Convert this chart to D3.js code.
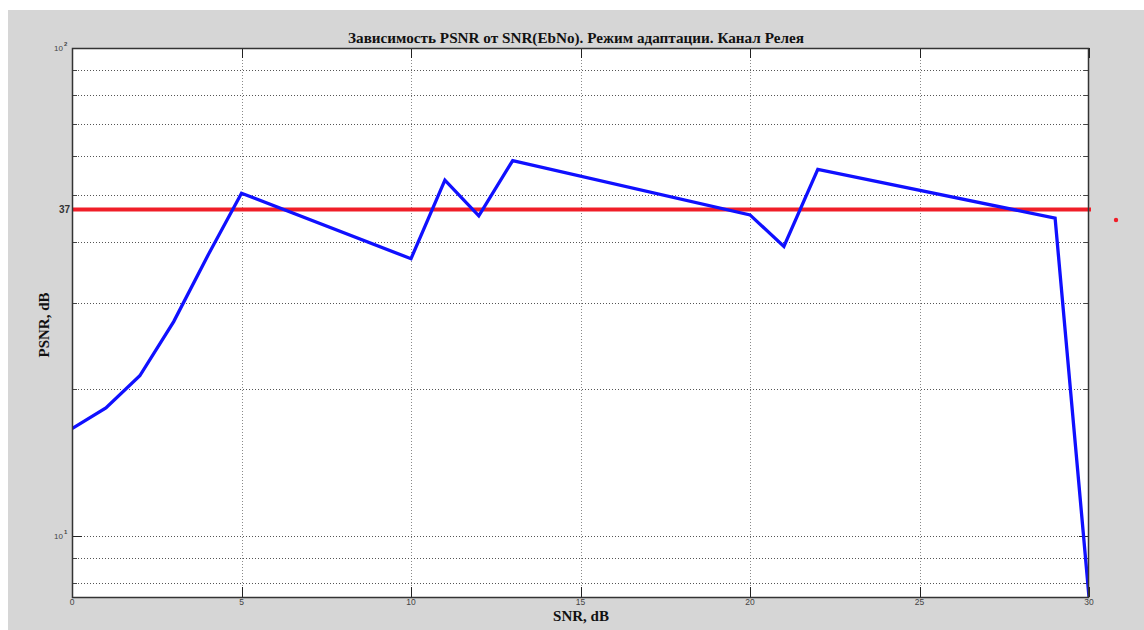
<!DOCTYPE html>
<html><head><meta charset="utf-8">
<script src="https://cdn.jsdelivr.net/npm/d3@7"></script>
<style>body{margin:0;background:#fff;}svg{display:block;}</style>
</head><body>
<script>
// ---- data ----
const snr  = [0, 1, 2, 3, 4, 5, 10, 11, 12, 13, 20, 21, 22, 29, 30];
const psnr = [16.6, 18.3, 21.3, 27.5, 37.5, 50.4, 37.0, 53.6, 45.3, 58.8, 45.5, 39.2, 56.4, 44.8, 7.5];
const thresholdValue = 46.7;
const thresholdLabel = "37";
const xTicks = [0, 5, 10, 15, 20, 25, 30];
const yMajorTicks = [10, 100];
const yMajorExp = ["1", "2"];
const yMinorTicks = [8, 9, 20, 30, 40, 50, 60, 70, 80, 90];
const titleText = "Зависимость PSNR от SNR(EbNo). Режим адаптации. Канал Релея";
const xLabel = "SNR, dB";
const yLabel = "PSNR, dB";

const W = 1144, H = 630;
const L = 72, R = 1089, T = 48, B = 597;

const svg = d3.select("body").append("svg").attr("width", W).attr("height", H);
svg.append("rect").attr("x", 8).attr("y", 10).attr("width", W - 8).attr("height", H - 10).attr("fill", "#d6d6d6");

const x = d3.scaleLinear().domain([0, 30]).range([L, R]);
const y = d3.scaleLog().domain([7.5, 100]).range([B, T]);

svg.append("rect").attr("x", L).attr("y", T).attr("width", R - L).attr("height", B - T).attr("fill", "#fff");

const g = svg.append("g");
// grid
g.selectAll(".vg").data(xTicks.slice(1, -1)).enter().append("line")
  .attr("x1", d => Math.round(x(d)) + 0.5).attr("x2", d => Math.round(x(d)) + 0.5).attr("y1", T).attr("y2", B)
  .attr("stroke", "#8a8a8a").attr("stroke-width", 1).attr("stroke-dasharray", "1,2");
g.selectAll(".hg").data(yMinorTicks.concat([10])).enter().append("line")
  .attr("x1", L).attr("x2", R).attr("y1", d => Math.round(y(d)) + 0.5).attr("y2", d => Math.round(y(d)) + 0.5)
  .attr("stroke", "#555").attr("stroke-width", 1).attr("stroke-dasharray", "1,2");

// ticks (inward)
const tk = svg.append("g").attr("stroke", "#222").attr("stroke-width", 1);
xTicks.forEach(d => {
  const xx = Math.round(x(d)) + 0.5;
  tk.append("line").attr("x1", xx).attr("x2", xx).attr("y1", B).attr("y2", B - 10);
  tk.append("line").attr("x1", xx).attr("x2", xx).attr("y1", T).attr("y2", T + 10);
});
yMajorTicks.forEach(d => {
  const yy = Math.round(y(d)) + 0.5;
  tk.append("line").attr("x1", L).attr("x2", L + 10).attr("y1", yy).attr("y2", yy);
  tk.append("line").attr("x1", R).attr("x2", R - 10).attr("y1", yy).attr("y2", yy);
});
yMinorTicks.forEach(d => {
  const yy = Math.round(y(d)) + 0.5;
  tk.append("line").attr("x1", L).attr("x2", L + 5).attr("y1", yy).attr("y2", yy).attr("stroke", "#444");
  tk.append("line").attr("x1", R).attr("x2", R - 5).attr("y1", yy).attr("y2", yy).attr("stroke", "#444");
});

// threshold line
svg.append("line").attr("x1", x(0)).attr("x2", x(30) + 2)
  .attr("y1", y(thresholdValue)).attr("y2", y(thresholdValue))
  .attr("stroke", "#f01e28").attr("stroke-width", 4);

// data line
svg.append("defs").append("clipPath").attr("id", "clip").append("rect")
  .attr("x", L).attr("y", T).attr("width", R - L).attr("height", B - T);
const line = d3.line().x((d, i) => x(snr[i])).y(d => y(d));
svg.append("path").datum(psnr).attr("d", line).attr("fill", "none")
  .attr("stroke", "#1010ff").attr("stroke-width", 3.3).attr("stroke-linejoin", "miter")
  .attr("clip-path", "url(#clip)");

// box
svg.append("rect").attr("x", L + 0.5).attr("y", T + 0.5).attr("width", R - L - 1).attr("height", B - T)
  .attr("fill", "none").attr("stroke", "#333").attr("stroke-width", 1.5);

// red marker outside
svg.append("circle").attr("cx", 1116).attr("cy", 220).attr("r", 2.2).attr("fill", "#f01e28");

// x tick labels
svg.append("g").selectAll("text").data(xTicks).enter().append("text")
  .attr("x", d => x(d)).attr("y", 605).attr("text-anchor", "middle")
  .attr("font-family", "Liberation Sans, Arial, sans-serif").attr("font-size", 8.5).attr("fill", "#444")
  .text(d => d);

// y tick labels
yMajorTicks.forEach((d, i) => {
  svg.append("text").attr("x", 63).attr("y", y(d) + 3).attr("text-anchor", "end")
    .attr("font-family", "Liberation Sans, Arial, sans-serif").attr("font-size", 8).attr("fill", "#444")
    .text("10");
  svg.append("text").attr("x", 64).attr("y", y(d) - 2)
    .attr("font-family", "Liberation Sans, Arial, sans-serif").attr("font-size", 6).attr("font-weight", "bold").attr("fill", "#444")
    .text(yMajorExp[i]);
});
svg.append("text").attr("x", 70).attr("y", y(thresholdValue) + 4).attr("text-anchor", "end")
  .attr("font-family", "Liberation Sans, Arial, sans-serif").attr("font-size", 10).attr("font-weight", "bold")
  .attr("fill", "#333").text(thresholdLabel);

// title & labels
svg.append("text").attr("x", 576).attr("y", 43).attr("text-anchor", "middle")
  .attr("font-family", "Liberation Serif, Times New Roman, serif").attr("font-weight", "bold").attr("font-size", 15.2)
  .attr("fill", "#111").text(titleText);
svg.append("text").attr("x", 581).attr("y", 621).attr("text-anchor", "middle")
  .attr("font-family", "Liberation Serif, Times New Roman, serif").attr("font-weight", "bold").attr("font-size", 15)
  .attr("fill", "#111").text(xLabel);
svg.append("text").attr("transform", "translate(49,325) rotate(-90)").attr("text-anchor", "middle")
  .attr("font-family", "Liberation Serif, Times New Roman, serif").attr("font-weight", "bold").attr("font-size", 15)
  .attr("fill", "#111").text(yLabel);
</script>
</body></html>
